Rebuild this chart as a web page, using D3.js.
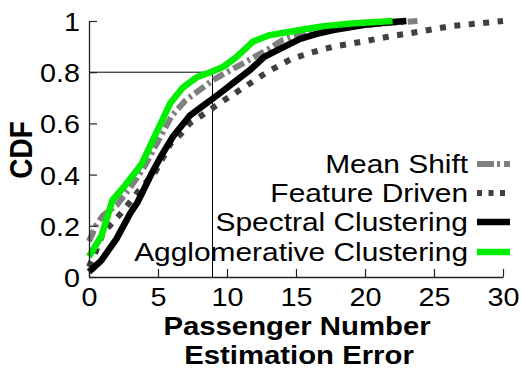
<!DOCTYPE html>
<html>
<head>
<meta charset="utf-8">
<script src="https://cdn.jsdelivr.net/npm/d3@7"></script>
<style>
  body { margin: 0; background: #fff; }
  svg { display: block; font-family: "Liberation Sans", Arial, sans-serif; }
</style>
</head>
<body>
<div id="chart"></div>
<script>
// CDF of passenger number estimation error
var meanShiftX = [0, 0.5, 1, 2, 3, 4, 5, 6, 7, 8, 9, 10, 11, 12, 13, 14, 15, 16, 18, 20, 22, 23.8];
var meanShiftY = [0.14, 0.2, 0.24, 0.28, 0.35, 0.43, 0.53, 0.63, 0.69, 0.73, 0.77, 0.8, 0.83, 0.86, 0.89, 0.925, 0.945, 0.96, 0.975, 0.985, 0.993, 1.0];

var featureX = [0, 0.5, 1, 1.5, 2.5, 3.5, 4.8, 5.9, 6.6, 7.3, 8, 9.5, 11.2, 12.9, 14.6, 16, 17.7, 19.9, 21.8, 23.8, 26.2, 29.3, 30];
var featureY = [0.04, 0.1, 0.17, 0.2, 0.26, 0.33, 0.41, 0.52, 0.555, 0.6, 0.625, 0.68, 0.74, 0.8, 0.85, 0.875, 0.9, 0.92, 0.94, 0.957, 0.98, 0.996, 1.0];

var spectralX = [0, 0.9, 2, 3, 3.5, 4.5, 5.2, 6.1, 7.3, 8.3, 9.3, 10.5, 11.7, 12.7, 13.8, 15.3, 16.5, 17.7, 20, 22, 23];
var spectralY = [0.02, 0.065, 0.15, 0.25, 0.29, 0.4, 0.47, 0.55, 0.63, 0.67, 0.71, 0.76, 0.81, 0.86, 0.89, 0.93, 0.95, 0.965, 0.985, 0.996, 1.0];

var agglomX = [0, 0.9, 1.7, 2.5, 3.8, 4.5, 5.2, 5.9, 6.8, 7.8, 8.8, 9.7, 10.7, 11.9, 13.1, 15.3, 17, 19, 22];
var agglomY = [0.08, 0.16, 0.3, 0.35, 0.44, 0.52, 0.6, 0.68, 0.74, 0.78, 0.8, 0.82, 0.86, 0.92, 0.945, 0.965, 0.98, 0.99, 1.0];

var legendNames = ["Mean Shift", "Feature Driven", "Spectral Clustering", "Agglomerative Clustering"];
var xTicks = [0, 5, 10, 15, 20, 25, 30];
var yTicks = [0, 0.2, 0.4, 0.6, 0.8, 1];
var refX = 8.95, refY = 0.8;

var series = [
  { xs: meanShiftX, ys: meanShiftY, color: "#808080", width: 6, dash: "12,4,3,4", legDash: "17,3,3,4" },
  { xs: featureX, ys: featureY, color: "#404040", width: 6, dash: "6,8.5", legDash: "5,6.5" },
  { xs: spectralX, ys: spectralY, color: "#000000", width: 6.5, dash: null, legDash: null },
  { xs: agglomX, ys: agglomY, color: "#00ee00", width: 6.5, dash: null, legDash: null }
];

var W = 522, H = 370;
var stretch = 1.15; // the figure is a bit wider than tall in its text

var svg = d3.select("#chart").append("svg")
  .attr("width", W).attr("height", H);

var x = d3.scaleLinear().domain([0, 30]).range([89, 503]);
var y = d3.scaleLinear().domain([0, 1]).range([277, 21]);

// reference lines at 80%
svg.append("line")
  .attr("x1", x(0)).attr("x2", x(refX))
  .attr("y1", y(refY)).attr("y2", y(refY))
  .attr("stroke", "#000").attr("stroke-width", 1);
svg.append("line")
  .attr("x1", x(refX)).attr("x2", x(refX))
  .attr("y1", y(refY)).attr("y2", y(0))
  .attr("stroke", "#000").attr("stroke-width", 1);

var line = d3.line()
  .x(function(d) { return x(d[0]); })
  .y(function(d) { return y(d[1]); });

series.forEach(function(s) {
  var pts = s.xs.map(function(v, i) { return [v, s.ys[i]]; });
  svg.append("path")
    .datum(pts)
    .attr("d", line)
    .attr("fill", "none")
    .attr("stroke", s.color)
    .attr("stroke-width", s.width)
    .attr("stroke-linejoin", "round")
    .attr("stroke-dasharray", s.dash);
});

// axes, ticks point inward
var xAxis = svg.append("g")
  .attr("transform", "translate(0," + y(0) + ")")
  .call(d3.axisBottom(x).tickValues(xTicks).tickSizeInner(-8).tickSizeOuter(0).tickPadding(11));
var yAxis = svg.append("g")
  .attr("transform", "translate(" + x(0) + ",0)")
  .call(d3.axisLeft(y).tickValues(yTicks).tickSizeInner(-8).tickSizeOuter(0)
    .tickFormat(function(d) { return d === 0 || d === 1 ? d : d3.format(".1f")(d); }));

[xAxis, yAxis].forEach(function(a) {
  a.select(".domain").attr("stroke", "#222").attr("stroke-width", 1.3);
  a.selectAll(".tick line").attr("stroke", "#222").attr("stroke-width", 1.2);
  a.selectAll("text").attr("fill", "#000").style("font-size", "25px")
    .style("font-family", "'Liberation Sans', Arial, sans-serif");
});
xAxis.selectAll("text")
  .attr("y", 0).attr("dy", "0.71em")
  .attr("transform", "translate(0,11) scale(" + stretch + ",1)");
yAxis.selectAll("text")
  .attr("x", 0).attr("dy", "0.38em")
  .attr("transform", "translate(-9,0) scale(" + stretch + ",1)");

// axis titles
svg.append("text")
  .attr("transform", "translate(32,150) scale(" + stretch + ",1) rotate(-90)")
  .attr("text-anchor", "middle")
  .style("font-size", "28px").style("font-weight", "bold")
  .text("CDF");

svg.append("text")
  .attr("transform", "translate(297,335) scale(" + stretch + ",1)")
  .attr("text-anchor", "middle")
  .style("font-size", "25.5px").style("font-weight", "bold")
  .text("Passenger Number");
svg.append("text")
  .attr("transform", "translate(299,364) scale(" + stretch + ",1)")
  .attr("text-anchor", "middle")
  .style("font-size", "25.5px").style("font-weight", "bold")
  .text("Estimation Error");

// legend
var legRows = [164, 193, 222, 252];
var leg = svg.append("g");
series.forEach(function(s, i) {
  leg.append("line")
    .attr("x1", 477).attr("x2", 510)
    .attr("y1", legRows[i]).attr("y2", legRows[i])
    .attr("stroke", s.color)
    .attr("stroke-width", s.width)
    .attr("stroke-dasharray", s.legDash);
  leg.append("text")
    .attr("transform", "translate(468," + (legRows[i] + 9) + ") scale(" + stretch + ",1)")
    .attr("text-anchor", "end")
    .style("font-size", "26px")
    .text(legendNames[i]);
});
</script>
</body>
</html>
